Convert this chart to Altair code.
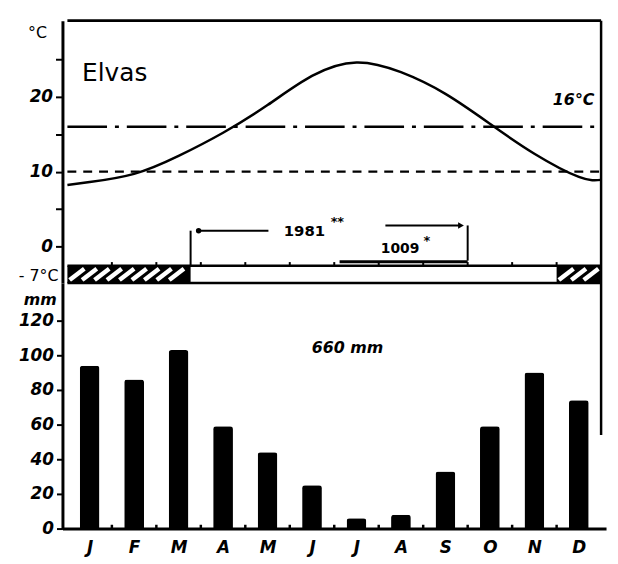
import altair as alt
import pandas as pd
import numpy as np

# ---- data ----
months = ["J", "F", "M", "A", "M", "J", "J", "A", "S", "O", "N", "D"]
precip_mm = [94, 86, 103, 59, 44, 25, 6, 8, 33, 59, 90, 74]
temp_c = [8.6, 9.7, 12.1, 15.2, 18.9, 22.8, 24.6, 23.3, 20.4, 16.4, 12.4, 9.3]
temp_edges = [8.2, 8.9]          # curve value at left / right border
ref_lines = [16, 10]             # dash-dot 16 degC, dashed 10 degC
hatch_spans = [(0.0, 2.77), (11.0, 12.0)]
precip_ticks = [0, 20, 40, 60, 80, 100, 120]
temp_ticks = [0, 5, 10, 15, 20, 25]

# ---- scales / geometry ----
TMIN, TMAX = -4.9, 30.2
PMAX = 141.7
W, H = 549, 513
TOP_H = 265
STRIP_TOP = -2.6
FONT = "DejaVu Sans"

XS = alt.Scale(domain=[0, 12], nice=False, zero=False)
TS = alt.Scale(domain=[TMIN, TMAX], range=[TOP_H, 0], nice=False, zero=False)
PS = alt.Scale(domain=[0, PMAX], range=[H, TOP_H], nice=False, zero=False)

label_expr = "[" + ",".join(f"'{m}'" for m in months) + "][floor(datum.value)]"
XAX = alt.Axis(
    values=[i + 0.5 for i in range(12)], labelExpr=label_expr, ticks=False,
    domainWidth=3, domainColor="black", labelColor="black", grid=False, title=None,
    labelFont=FONT, labelFontSize=17, labelFontWeight="bold", labelFontStyle="italic",
    labelPadding=11)


def X(f="x"):
    return alt.X(f"{f}:Q", scale=XS, axis=XAX)


def TY(f="y"):
    return alt.Y(f"{f}:Q", scale=TS, axis=None)


def PY(f="y"):
    return alt.Y(f"{f}:Q", scale=PS, axis=None)


def seg(rows, yfun, color="black", **kw):
    df = pd.DataFrame(rows, columns=["x", "x2", "y", "y2"])
    return alt.Chart(df).mark_rule(color=color, **kw).encode(
        x=X("x"), x2="x2", y=yfun("y"), y2="y2")


def txt(x, y, s, yfun, **kw):
    df = pd.DataFrame({"x": [x], "y": [y], "s": [s]})
    base = dict(font=FONT, color="black")
    base.update(kw)
    return alt.Chart(df).mark_text(**base).encode(x=X("x"), y=yfun("y"), text="s:N")


# ---- precipitation bars (carry mm axis) ----
bars_df = pd.DataFrame({"x": [i + 0.5 for i in range(12)], "y": precip_mm, "m": months})
bars = alt.Chart(bars_df).mark_bar(
    color="black", width=20, cornerRadiusTopLeft=3, cornerRadiusTopRight=3
).encode(
    x=X("x"),
    y=alt.Y("y:Q", scale=PS, axis=alt.Axis(
        orient="left", values=precip_ticks, tickSize=6, tickWidth=2, tickColor="black",
        domainWidth=3, domainColor="black", labelColor="black", grid=False, title=None,
        labelFont=FONT, labelFontSize=17, labelFontWeight="bold", labelFontStyle="italic",
        labelPadding=3)),
)

# ---- temperature curve (carries degC axis) ----
curve_x = [0.0] + [i + 0.5 for i in range(12)] + [12.0]
curve_y = [temp_edges[0]] + temp_c + [temp_edges[1]]
curve = alt.Chart(pd.DataFrame({"x": curve_x, "y": curve_y})).mark_line(
    color="black", strokeWidth=2.5, interpolate="natural"
).encode(
    x=X("x"),
    y=alt.Y("y:Q", scale=TS, axis=alt.Axis(
        orient="left", values=temp_ticks, labelExpr="datum.value % 10 == 0 ? datum.value : ''",
        tickSize=7, tickWidth=2, tickColor="black",
        domainWidth=3, domainColor="black", labelColor="black", grid=False, title=None,
        labelFont=FONT, labelFontSize=17, labelFontWeight="bold", labelFontStyle="italic",
        labelPadding=3)),
)

line16 = seg([(0, 12, ref_lines[0], ref_lines[0])], TY, strokeWidth=2.5, strokeDash=[40, 8, 4, 8])
line10 = seg([(0, 12, ref_lines[1], ref_lines[1])], TY, strokeWidth=2.5, strokeDash=[9, 7])

frame_top = seg([(0, 12, TMAX, TMAX)], TY, strokeWidth=3)
frame_right_t = seg([(12, 12, TMIN, TMAX)], TY, strokeWidth=2.5)
frame_right_p = seg([(12, 12, 54, PMAX)], PY, strokeWidth=2.5)
strip_lines = seg([(0, 12, STRIP_TOP, STRIP_TOP), (0, 12, TMIN, TMIN)], TY, strokeWidth=2.5)

# hatched strip
hatch_df = pd.DataFrame([(a, b, TMIN, STRIP_TOP) for a, b in hatch_spans],
                        columns=["x", "x2", "y", "y2"])
hatch_rect = alt.Chart(hatch_df).mark_rect(color="black").encode(
    x=X("x"), x2="x2", y=TY("y"), y2="y2")
stripes = []
for a, b in hatch_spans:
    for s in np.arange(a + 0.05, b - 0.33, 0.28):
        stripes.append((s, s + 0.33, TMIN + 0.4, STRIP_TOP - 0.4))
hatch_lines = seg(stripes, TY, color="white", strokeWidth=4.5)

# month boundary ticks
strip_ticks = seg([(k, k, STRIP_TOP, STRIP_TOP + 0.5) for k in range(1, 12)], TY, strokeWidth=2)
base_ticks = seg([(k, k, 0, 2.2) for k in range(1, 12)], PY, strokeWidth=2.5)

# frost-free period brackets
brackets = seg([
    (2.77, 2.77, 2.1, STRIP_TOP),
    (9.0, 9.0, 2.8, -1.9),
    (2.95, 4.52, 2.1, 2.1),
    (7.15, 8.85, 2.8, 2.8),
], TY, strokeWidth=2)
thick_1009 = seg([(6.12, 9.0, -2.05, -2.05)], TY, strokeWidth=3)
dot = alt.Chart(pd.DataFrame({"x": [2.95], "y": [2.1]})).mark_point(
    shape="circle", filled=True, color="black", size=30, opacity=1).encode(x=X("x"), y=TY("y"))
arrow = alt.Chart(pd.DataFrame({"x": [8.85], "y": [2.8]})).mark_point(
    shape="triangle-right", filled=True, color="black", size=45, opacity=1).encode(x=X("x"), y=TY("y"))

texts = [
    txt(0.33, 23.2, "Elvas", TY, fontSize=25, align="left", baseline="middle"),
    txt(11.85, 19.6, "16°C", TY, fontSize=16, fontStyle="italic", fontWeight="bold",
        align="right", baseline="middle"),
    txt(5.33, 2.0, "1981", TY, fontSize=15, fontWeight="bold", align="center", baseline="middle"),
    txt(6.07, 3.3, "**", TY, fontSize=13, fontWeight="bold", align="center", baseline="middle"),
    txt(7.48, -0.4, "1009", TY, fontSize=14, fontWeight="bold", align="center", baseline="middle"),
    txt(8.08, 0.7, "*", TY, fontSize=13, fontWeight="bold", align="center", baseline="middle"),
    txt(-0.46, 28.6, "°C", TY, fontSize=16, align="right", baseline="middle"),
    txt(-0.2, -4.0, "- 7°C", TY, fontSize=16, align="right", baseline="middle"),
    txt(-0.24, 132, "mm", PY, fontSize=16, fontStyle="italic", fontWeight="bold",
        align="right", baseline="middle"),
    txt(6.3, 104, "660 mm", PY, fontSize=16, fontStyle="italic", fontWeight="bold",
        align="center", baseline="middle"),
]

chart = alt.layer(
    hatch_rect, hatch_lines, strip_lines, strip_ticks, base_ticks,
    line16, line10, curve, frame_top, frame_right_t, frame_right_p,
    brackets, thick_1009, dot, arrow, bars, *texts,
).resolve_scale(y="independent").resolve_axis(y="independent").properties(
    width=W, height=H,
    autosize=alt.AutoSizeParams(type="none"),
    padding={"left": 55, "top": 10, "right": 4, "bottom": 30},
    background="white",
).configure_view(strokeWidth=0)

chart.save("out.html", embed_options={"renderer": "svg", "actions": False})
